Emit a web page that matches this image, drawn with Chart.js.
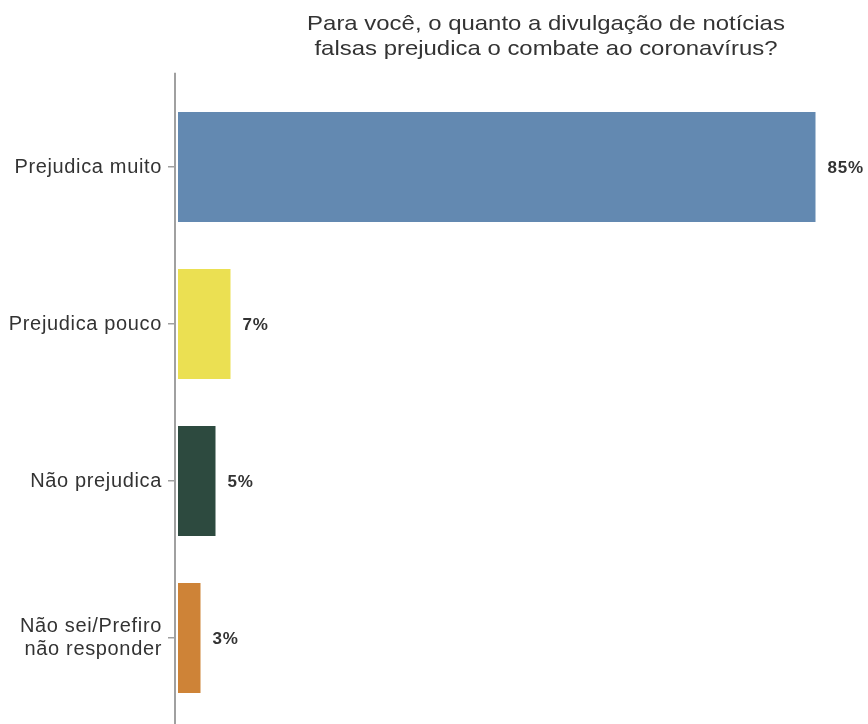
<!DOCTYPE html>
<html lang="pt">
<head>
    <meta charset="UTF-8">
    <title>Notícias falsas e coronavírus</title>
    <script src="https://cdn.jsdelivr.net/npm/chart.js"></script>
    <style>
        * {
            padding: 0px;
            margin: 0px;
            box-sizing: border-box;
        }

        body {
            background-color: #ffffff;
            font-family: 'Liberation Sans', Arial, sans-serif;
        }

        .wrap {
            position: relative;
            width: 868px;
            height: 724px;
            overflow: hidden;
        }

        #chart {
            display: block;
        }

        #title {
            position: absolute;
            top: 10px;
            left: 246px;
            width: 600px;
            text-align: center;
            font-size: 21px;
            line-height: 25px;
            color: #333333;
            transform: scaleX(1.14);
        }
    </style>
</head>

<body>
    <div class="wrap">
        <canvas id="chart" width="868" height="724"></canvas>
        <div id="title">Para você, o quanto a divulgação de notícias<br>falsas prejudica o combate ao coronavírus?</div>
    </div>

    <script>
        const categories = ['Prejudica muito', 'Prejudica pouco', 'Não prejudica', ['Não sei/Prefiro', 'não responder']];
        const percentages = [85, 7, 5, 3];
        const barColors = ['#6389b1', '#ebe052', '#2d4a3f', '#ce8337'];

        // slightly wider text, like the original
        const wideText = {
            id: 'wideText',
            beforeDraw(chart) {
                chart.ctx.letterSpacing = '0.65px';
            }
        };

        // vertical axis line, drawn a bit past the first and last category like ggplot does
        const axisLine = {
            id: 'axisLine',
            afterDraw(chart) {
                const area = chart.chartArea;
                const band = (area.bottom - area.top) / categories.length;
                const ctx = chart.ctx;
                ctx.save();
                ctx.strokeStyle = '#a0a0a0';
                ctx.lineWidth = 2;
                ctx.beginPath();
                ctx.moveTo(area.left, area.top - band * 0.1);
                ctx.lineTo(area.left, area.bottom + band * 0.1);
                ctx.stroke();
                ctx.restore();
            }
        };

        const valueLabels = {
            id: 'valueLabels',
            afterDatasetsDraw(chart) {
                const ctx = chart.ctx;
                const meta = chart.getDatasetMeta(0);
                ctx.save();
                ctx.letterSpacing = '0.8px';
                ctx.font = 'bold 17px "Liberation Sans", Arial, sans-serif';
                ctx.fillStyle = '#333333';
                ctx.textAlign = 'left';
                ctx.textBaseline = 'middle';
                meta.data.forEach((bar, i) => {
                    ctx.fillText(percentages[i] + '%', bar.x + 12, bar.y + 1);
                });
                ctx.restore();
            }
        };

        const ctx = document.getElementById('chart').getContext('2d');
        new Chart(ctx, {
            type: 'bar',
            data: {
                labels: categories,
                datasets: [{
                    data: percentages,
                    backgroundColor: barColors,
                    categoryPercentage: 1,
                    barPercentage: 0.7
                }]
            },
            options: {
                indexAxis: 'y',
                responsive: false,
                animation: false,
                layout: {
                    padding: { top: 88.5, bottom: 7.5, left: 0, right: 0 }
                },
                plugins: {
                    legend: { display: false },
                    tooltip: { enabled: false }
                },
                scales: {
                    x: {
                        display: false,
                        min: -0.4,
                        max: 92
                    },
                    y: {
                        afterFit(scale) {
                            scale.width = 175;
                            scale.paddingTop = 0;
                            scale.paddingBottom = 0;
                        },
                        border: { display: false },
                        grid: {
                            offset: false,
                            drawOnChartArea: false,
                            drawTicks: true,
                            tickLength: 7,
                            color: '#a0a0a0',
                            lineWidth: 1.5
                        },
                        ticks: {
                            padding: 6,
                            color: '#333333',
                            font: { family: '"Liberation Sans", Arial, sans-serif', size: 20, lineHeight: 1.15 }
                        }
                    }
                }
            },
            plugins: [wideText, axisLine, valueLabels]
        });
    </script>
</body>
</html>
